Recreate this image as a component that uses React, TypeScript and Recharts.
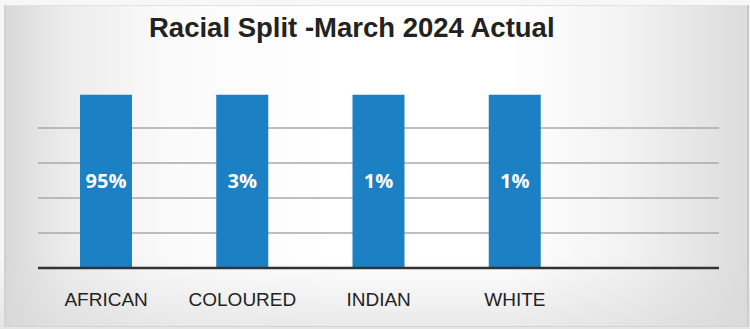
import { Bar, BarChart, CartesianGrid, LabelList, XAxis, YAxis } from 'recharts';

// categories and what each bar shows
const races = ['AFRICAN', 'COLOURED', 'INDIAN', 'WHITE'];
const shareLabels = ['95%', '3%', '1%', '1%'];
// the bars in the source are all drawn at the same height
const barHeights = [99, 99, 99, 99];
const yTicks = [0, 20, 40, 60, 80];

const data = races.map((race, i) => ({ race, height: barHeights[i], label: shareLabels[i] }));

export default function App() {
  return (
    <div
      style={{
        position: 'fixed',
        left: 0,
        top: 0,
        width: 750,
        height: 329,
        background: '#f7f7f7',
        overflow: 'hidden',
      }}
    >
      <div
        style={{
          position: 'absolute',
          left: 4,
          top: 5,
          width: 741,
          height: 320,
          borderTop: '1px solid #e2e2e2',
          borderBottom: '1px solid #cfcfcf',
          borderLeft: '2px solid #d0d0d0',
          borderRight: '2px solid #c8c8c8',
          background:
            'linear-gradient(90deg, #d9d9d9 0%, #ececec 8%, #fafafa 22%, #ffffff 45%, #ffffff 68%, #f2f2f2 84%, #dcdcdc 100%)',
        }}
      />
      <div
        style={{
          position: 'absolute',
          left: 0,
          top: 0,
          width: 750,
          height: 329,
          background: 'linear-gradient(180deg, rgba(255,255,255,0) 78%, rgba(215,215,215,0.55) 100%)',
        }}
      />
      <div
        style={{
          position: 'absolute',
          left: 149,
          top: 12,
          fontFamily: '"Liberation Sans", Arial, sans-serif',
          fontWeight: 700,
          fontSize: 27.5,
          color: '#222',
          whiteSpace: 'nowrap',
          lineHeight: '32px',
        }}
      >
        Racial Split -March 2024 Actual
      </div>
      <div style={{ position: 'absolute', left: 0, top: 0 }}>
        <BarChart
          width={750}
          height={329}
          data={data}
          margin={{ top: 93, right: 31, bottom: 21, left: 38 }}
          barSize={52}
        >
          <CartesianGrid stroke="#a8a8a8" strokeWidth={1.5} vertical={false} horizontalValues={yTicks} />
          <XAxis
            dataKey="race"
            height={40}
            padding={{ left: 0, right: 136 }}
            axisLine={{ stroke: '#333', strokeWidth: 2.5 }}
            tickLine={false}
            tickSize={0}
            tickMargin={25}
            tick={{ fill: '#222', fontSize: 19, fontFamily: '"Liberation Sans", Arial, sans-serif' }}
          />
          <YAxis hide domain={[0, 100]} ticks={yTicks} />
          <Bar dataKey="height" fill="#1c80c4" isAnimationActive={false}>
            <LabelList
              dataKey="label"
              position="center"
              fill="#fff"
              style={{ fontSize: 20, fontWeight: 700, fontFamily: '"Open Sans", sans-serif' }}
            />
          </Bar>
        </BarChart>
      </div>
    </div>
  );
}
